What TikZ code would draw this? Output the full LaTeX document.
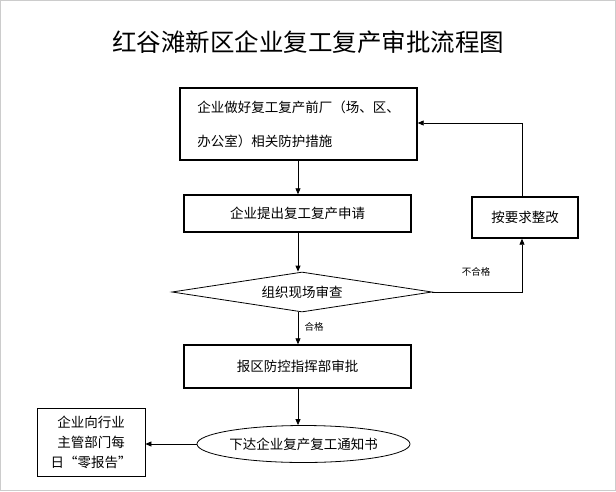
\documentclass[tikz,border=0pt]{standalone}
\usepackage{fontspec}
\setmainfont{Noto Sans CJK SC}
\usetikzlibrary{shapes.geometric,arrows.meta}
\begin{document}
\begin{tikzpicture}[x=1pt,y=-1pt,
  box/.style={draw,line width=1.4pt,inner sep=0pt,font=\fontsize{13.5}{18}\selectfont,align=center},
  arr/.style={draw,line width=0.8pt,-{Triangle[length=6pt,width=5pt]}},
  lbl/.style={font=\fontsize{9.5}{11}\selectfont}]
\useasboundingbox (0,0) rectangle (616,491);
\draw[gray!40] (0.5,0.5) rectangle (615.5,490.5);
\node[font=\fontsize{24.5}{28}\selectfont] (t) at (308,42) {红谷滩新区企业复工复产审批流程图};
\node[box,minimum width=237pt,minimum height=72pt,align=left] (b1) at (298.5,124) {企业做好复工复产前厂（场、区、\\[16pt]办公室）相关防护措施};
\node[box,minimum width=227pt,minimum height=37pt] (b2) at (297.5,213.5) {企业提出复工复产申请};
\node[draw,line width=0.8pt,diamond,aspect=6.5,minimum width=260pt,minimum height=40pt,inner sep=0pt,font=\fontsize{13.5}{16}\selectfont] (d) at (302,292) {组织现场审查};
\node[box,minimum width=227pt,minimum height=43pt] (b3) at (297.5,366.5) {报区防控指挥部审批};
\node[draw,line width=0.8pt,ellipse,minimum width=213pt,minimum height=37pt,inner sep=0pt,font=\fontsize{13.5}{16}\selectfont] (e) at (303.5,444) {下达企业复产复工通知书};
\node[box,line width=0.8pt,minimum width=108pt,minimum height=68pt,font=\fontsize{13.5}{20}\selectfont] (l) at (91,442) {企业向行业\\主管部门每\\日“零报告”};
\node[box,minimum width=106pt,minimum height=41pt] (r) at (525,217.5) {按要求整改};
\coordinate (c1) at (522,292);
\coordinate (c2) at (522,123);
\draw[arr] (b1.south -| 298,0) -- (b2.north -| 298,0);
\draw[arr] (b2.south -| 298,0) -- (d.north -| 298,0);
\draw[arr] (d.south -| 298,0) -- node[lbl,right,pos=0.45,xshift=3pt]{合格} (b3.north -| 298,0);
\draw[arr] (b3.south -| 298,0) -- (e.north -| 298,0);
\draw[arr] (d.east) -- (c1) -- (r.south -| c1);
\node[lbl] (nh) at (476,272) {不合格};
\draw[arr] (r.north -| c2) -- (c2) -- (b1.east |- c2);
\draw[arr] (e.west) -- (l.east |- e.west);
\end{tikzpicture}
\end{document}
